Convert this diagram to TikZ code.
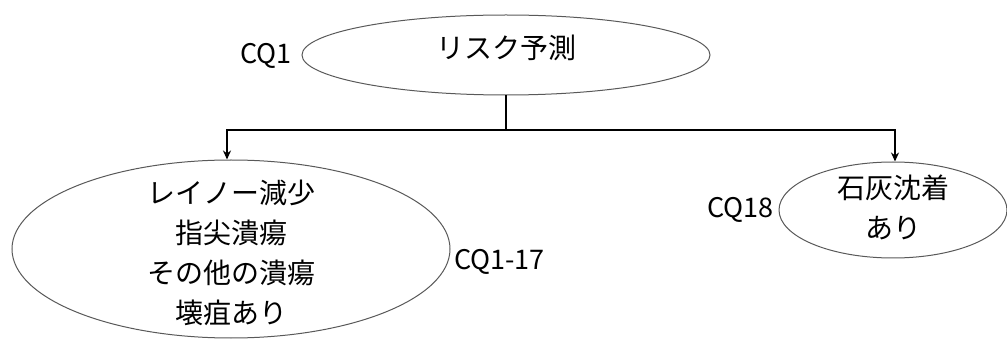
\documentclass[tikz,border=0pt]{standalone}
\usepackage{fontspec}
\setmainfont{Noto Sans CJK JP}
\usetikzlibrary{shapes.geometric,arrows.meta}
\begin{document}
\begin{tikzpicture}[x=1pt,y=-1pt,
  ell/.style={draw=black!65,line width=1pt,ellipse,inner sep=0pt,align=center,font=\fontsize{28}{40}\selectfont},
  lab/.style={font=\fontsize{27}{32}\selectfont,inner sep=0pt},
  conn/.style={line width=2.4pt,-{Stealth[length=9pt,width=8pt]}}]
\useasboundingbox (0,0) rectangle (1007,339);
\node[ell,minimum width=408pt,minimum height=80pt] (top) at (506,55) {};
\node[font=\fontsize{28}{40}\selectfont] (toptxt) at (506,48) {リスク予測};
\node[lab,anchor=east] (cq1) at (292,56) {CQ1};
\node[ell,minimum width=438pt,minimum height=178pt] (left) at (231,249) {};
\node[font=\fontsize{28}{40}\selectfont,align=center] (lefttxt) at (231,253) {レイノー減少\\指尖潰瘍\\その他の潰瘍\\壊疽あり};
\node[lab,anchor=west] (cq17) at (454,262) {CQ1-17};
\node[ell,minimum width=228pt,minimum height=96pt] (right) at (893,210) {};
\node[font=\fontsize{28}{40}\selectfont,align=center] (righttxt) at (893,207) {石灰沈着\\あり};
\node[lab,anchor=east] (cq18) at (774,210) {CQ18};
\coordinate (j) at (506,130);
\draw[line width=2.4pt] (top.south) -- (j);
\draw[conn] (j) -- (227,130) -- (left.north -| 227,0);
\draw[conn] (j) -- (895,130) -- (right.north -| 895,0);
\end{tikzpicture}
\end{document}
